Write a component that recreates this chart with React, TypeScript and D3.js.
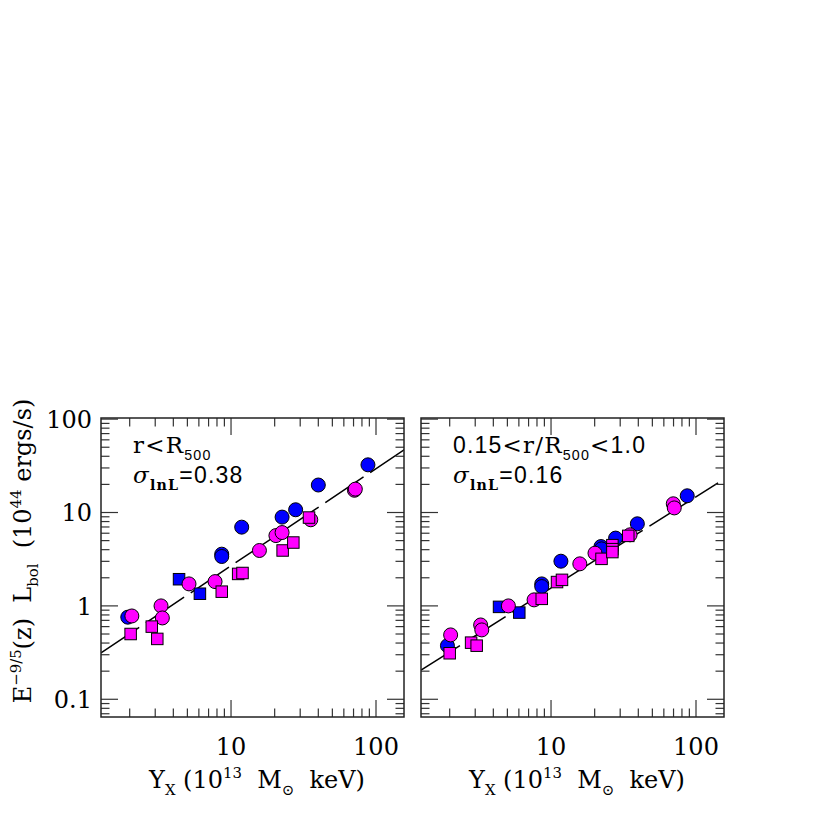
import React, { useEffect, useRef } from "react"
import * as d3 from "d3"

// [Yx (1e13 Msun keV), E^-9/5 L_bol (1e44 erg/s)]
const leftBlueCircles = [
	[1.94, 0.757], [8.63, 3.58], [8.63, 3.38], [11.85, 6.97], [22.5, 8.93],
	[27.9, 10.7], [40, 19.7], [88, 32.4],
]
const leftBlueSquares = [[4.38, 1.93], [6.1, 1.35]]
const leftMagentaCircles = [
	[2.07, 0.78], [3.29, 1.0], [3.36, 0.743], [5.13, 1.72], [7.76, 1.82],
	[15.7, 3.92], [20.4, 5.66], [22.5, 6.1], [35.5, 8.36], [71, 17.3], [72, 17.8],
]
const leftMagentaSquares = [
	[2.03, 0.5], [2.84, 0.6], [3.1, 0.443], [8.63, 1.42], [11.2, 2.2],
	[12.0, 2.25], [22.7, 3.92], [26.9, 4.77], [34.5, 8.83],
]

const rightBlueCircles = [
	[1.93, 0.375], [8.63, 1.72], [8.63, 1.61], [11.7, 3.01], [22.1, 4.32],
	[22.3, 4.08], [27.9, 5.32], [39.4, 7.57], [87, 15.1],
]
const rightBlueSquares = [[4.38, 0.976], [6.04, 0.848]]
const rightMagentaCircles = [
	[2.03, 0.489], [3.27, 0.625], [3.33, 0.553], [5.08, 1.0], [7.64, 1.16],
	[15.8, 2.82], [20.1, 3.67], [35.1, 5.77], [69.7, 12.4], [70.8, 11.2],
]
const rightMagentaSquares = [
	[2.0, 0.311], [2.81, 0.404], [3.07, 0.375], [8.63, 1.19], [11.0, 1.8],
	[11.9, 1.9], [22.3, 3.19], [26.5, 4.47], [26.5, 4.05], [26.5, 3.77], [34.1, 5.62],
]

// best fit power laws: L = norm * (Yx/10)^slope
const leftFit = { norm: 2.69, slope: 1.04, end: 160 }
const rightFit = { norm: 1.55, slope: 0.978, end: 142 }

const xMajor = [10, 100]
const xMajorLabels = ["10", "100"]
const xMinor = [2, 3, 4, 5, 6, 7, 8, 9, 20, 30, 40, 50, 60, 70, 80, 90]
const yMajor = [0.1, 1, 10, 100]
const yMajorLabels = ["0.1", "1", "10", "100"]
const yMinor = [0.07, 0.08, 0.09, 0.2, 0.3, 0.4, 0.5, 0.6, 0.7, 0.8, 0.9,
	2, 3, 4, 5, 6, 7, 8, 9, 20, 30, 40, 50, 60, 70, 80, 90]

const SERIF = "'DejaVu Serif', serif"
const SANS = "'Liberation Sans', Arial, sans-serif"

// write text made of pieces, some of them sub- or superscripts
const richText = (sel, parts, size) => {
	let shift = 0
	parts.forEach((p) => {
		const target = p.k === "sup" ? -0.42 * size : p.k === "sub" ? 0.3 * size : 0
		const ts = sel.append("tspan").text(p.t)
			.attr("dy", target - shift)
			.attr("font-size", p.k ? size * 0.62 : size)
			.attr("font-family", p.f || SERIF)
		if (p.i) ts.attr("font-style", "italic")
		if (p.b) ts.attr("font-weight", "bold")
		shift = target
	})
}

const App = () => {
	const svgRef = useRef()

	useEffect(() => {
		const svg = d3.select(svgRef.current)
		svg.selectAll("*").remove()

		const W = 303
		const top = 418
		const bottom = 717

		const panels = [
			{
				x0: 101, showY: true, fit: leftFit,
				sets: [leftBlueCircles, leftBlueSquares, leftMagentaCircles, leftMagentaSquares],
				line1: [{ t: "r<R" }, { t: "500", k: "sub", f: SANS }],
				line2: [{ t: "σ", i: true }, { t: "lnL", k: "sub", b: true }, { t: "=0.38", f: SANS }],
			},
			{
				x0: 421, showY: false, fit: rightFit,
				sets: [rightBlueCircles, rightBlueSquares, rightMagentaCircles, rightMagentaSquares],
				line1: [{ t: "0.15", f: SANS }, { t: "<r/R" }, { t: "500", k: "sub", f: SANS }, { t: "<" }, { t: "1.0", f: SANS }],
				line2: [{ t: "σ", i: true }, { t: "lnL", k: "sub", b: true }, { t: "=0.16", f: SANS }],
			},
		]
		const colors = ["#0000ff", "#0000ff", "#ff00ff", "#ff00ff"]
		const shapes = ["circle", "square", "circle", "square"]

		panels.forEach((p) => {
			const x = d3.scaleLog().domain([1.268, 156]).range([p.x0, p.x0 + W])
			const y = d3.scaleLog().domain([0.0646, 102.8]).range([bottom, top])
			const g = svg.append("g")

			const clipId = "clip" + p.x0
			g.append("clipPath").attr("id", clipId)
				.append("rect").attr("x", p.x0).attr("y", top).attr("width", W).attr("height", bottom - top)

			// fit line
			const line = d3.line().x((d) => x(d[0])).y((d) => y(d[1]))
			const fitPts = [1.268, p.fit.end].map((v) => [v, p.fit.norm * Math.pow(v / 10, p.fit.slope)])
			g.append("path").attr("d", line(fitPts))
				.attr("clip-path", `url(#${clipId})`)
				.attr("fill", "none").attr("stroke", "#000").attr("stroke-width", 1.5)
				.attr("stroke-dasharray", "46 8")

			// points
			p.sets.forEach((set, i) => {
				const sg = g.append("g").attr("fill", colors[i]).attr("stroke", "#000").attr("stroke-width", 1)
				if (shapes[i] === "circle") {
					sg.selectAll("circle").data(set).join("circle")
						.attr("cx", (d) => x(d[0])).attr("cy", (d) => y(d[1])).attr("r", 7)
				} else {
					const s = 11.5
					sg.selectAll("rect").data(set).join("rect")
						.attr("x", (d) => x(d[0]) - s / 2).attr("y", (d) => y(d[1]) - s / 2)
						.attr("width", s).attr("height", s)
				}
			})

			// ticks on all four sides
			const tg = g.append("g").attr("stroke", "#333").attr("stroke-width", 1.2)
			const tick = (v, len, axis) => {
				if (axis === "x") {
					tg.append("line").attr("x1", x(v)).attr("x2", x(v)).attr("y1", bottom).attr("y2", bottom - len)
					tg.append("line").attr("x1", x(v)).attr("x2", x(v)).attr("y1", top).attr("y2", top + len)
				} else {
					tg.append("line").attr("y1", y(v)).attr("y2", y(v)).attr("x1", p.x0).attr("x2", p.x0 + len)
					tg.append("line").attr("y1", y(v)).attr("y2", y(v)).attr("x1", p.x0 + W).attr("x2", p.x0 + W - len)
				}
			}
			xMajor.forEach((v) => tick(v, 17, "x"))
			xMinor.forEach((v) => tick(v, 8.5, "x"))
			yMajor.forEach((v) => tick(v, 17, "y"))
			yMinor.forEach((v) => tick(v, 8.5, "y"))

			g.append("rect").attr("x", p.x0).attr("y", top).attr("width", W).attr("height", bottom - top)
				.attr("fill", "none").attr("stroke", "#222").attr("stroke-width", 1.5)

			// tick labels
			xMajor.forEach((v, i) => {
				g.append("text").attr("x", x(v)).attr("y", 755).attr("text-anchor", "middle")
					.attr("font-family", SERIF).attr("font-size", 24).text(xMajorLabels[i])
			})
			if (p.showY) {
				yMajor.forEach((v, i) => {
					g.append("text").attr("x", 92).attr("y", y(v)).attr("dy", "0.36em").attr("text-anchor", "end")
						.attr("font-family", SERIF).attr("font-size", 24).text(yMajorLabels[i])
				})
			}

			// x title
			const xt = g.append("text").attr("x", p.x0 + 156).attr("y", 788).attr("text-anchor", "middle")
				.style("white-space", "pre")
			richText(xt, [{ t: "Y" }, { t: "X", k: "sub" }, { t: " (10" }, { t: "13", k: "sup" }, { t: "  M" }, { t: "⊙", k: "sub" }, { t: "  keV)" }], 24)

			// annotations
			richText(g.append("text").attr("x", p.x0 + 32).attr("y", 453).attr("letter-spacing", 1.2), p.line1, 23)
			richText(g.append("text").attr("x", p.x0 + 32).attr("y", 483).attr("letter-spacing", 1.2), p.line2, 23)
		})

		// y title
		const yt = svg.append("text").attr("transform", "translate(31, 551) rotate(-90)").attr("text-anchor", "middle")
			.style("white-space", "pre")
		richText(yt, [{ t: "E" }, { t: "−9/5", k: "sup" }, { t: "(z)  L" }, { t: "bol", k: "sub" }, { t: "  (10" }, { t: "44", k: "sup" }, { t: " ergs/s)" }], 24)
	}, [])

	return (
		<div style={{ position: "absolute", left: 0, top: 0 }}>
			<svg ref={svgRef} width={817} height={817} style={{ background: "#fff", display: "block" }}></svg>
		</div>
	)
}

export default App
